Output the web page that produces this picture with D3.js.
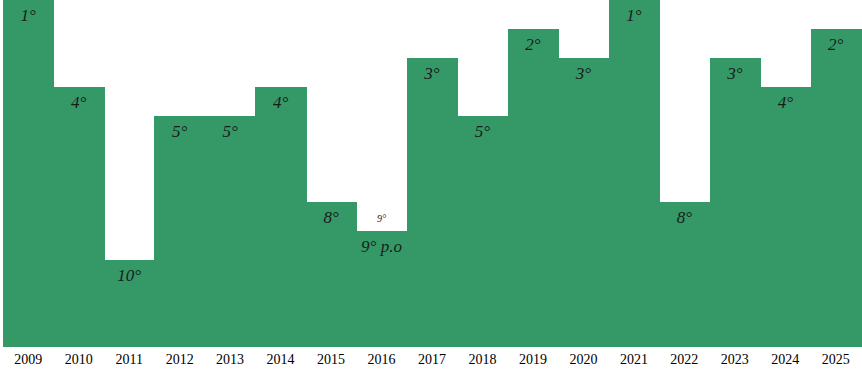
<!DOCTYPE html>
<html>
<head>
<meta charset="utf-8">
<script src="https://cdn.jsdelivr.net/npm/d3@7"></script>
<style>
    body { margin: 0; background: #fff; }
    .rank { font-family: 'Liberation Serif', serif; font-style: italic; font-size: 17px; fill: #1b1b1b; }
    .year { font-family: 'Liberation Serif', serif; font-size: 14px; fill: #000; }
</style>
</head>
<body>
<div id="chart"></div>
<script>
const years = ["2009","2010","2011","2012","2013","2014","2015","2016","2017","2018","2019","2020","2021","2022","2023","2024","2025"];
const ranks = [1, 4, 10, 5, 5, 4, 8, 9, 3, 5, 2, 3, 1, 8, 3, 4, 2];
const rankLabels = ["1°","4°","10°","5°","5°","4°","8°","9° p.o","3°","5°","2°","3°","1°","8°","3°","4°","2°"];
// small note printed above the 2016 bar
const noteYear = "2016";
const noteText = "9°";

var width = 862, height = 374;
var green = "#349966";

let svg = d3.select("#chart").append("svg").attr("width", width).attr("height", height);

let x = d3.scaleBand().domain(years).range([3, 861]).padding(0);
// rank 1 at the top, chart floor equal to rank 13
let y = d3.scaleLinear().domain([1, 13]).range([0, 347]);

svg.selectAll("rect.bar").data(years).enter().append("rect")
    .attr("class", "bar")
    .attr("x", d => Math.round(x(d)))
    .attr("width", d => Math.round(x(d) + x.bandwidth()) - Math.round(x(d)) + 1)
    .attr("y", (d, i) => Math.round(y(ranks[i])))
    .attr("height", (d, i) => Math.round(y(13)) - Math.round(y(ranks[i])))
    .attr("fill", green)
    .attr("shape-rendering", "crispEdges");

svg.selectAll("text.rank").data(years).enter().append("text")
    .attr("class", "rank")
    .attr("x", d => x(d) + x.bandwidth() / 2)
    .attr("y", (d, i) => y(ranks[i]) + 21)
    .attr("text-anchor", "middle")
    .text((d, i) => rankLabels[i]);

let ni = years.indexOf(noteYear);
svg.append("text")
    .attr("class", "rank")
    .attr("x", x(noteYear) + x.bandwidth() / 2)
    .attr("y", y(ranks[ni]) - 9)
    .attr("text-anchor", "middle")
    .style("font-size", "10px")
    .text(noteText);

let xAxis = svg.append("g").attr("transform", "translate(0,354)")
    .call(d3.axisBottom(x).tickSize(0).tickPadding(0));
xAxis.select(".domain").remove();
xAxis.selectAll("text").attr("class", "year").attr("dy", "0.71em").attr("font-family", null).attr("font-size", null);
</script>
</body>
</html>
